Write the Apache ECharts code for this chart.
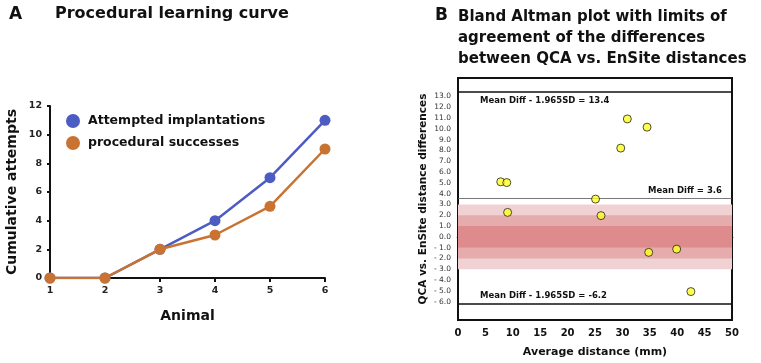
<!DOCTYPE html>
<html><head><meta charset="utf-8">
<script src="https://cdn.jsdelivr.net/npm/echarts@6/dist/echarts.min.js"></script>
<style>html,body{margin:0;padding:0;background:#fff}#c{width:761px;height:363px}</style>
</head><body><div id="c"></div>
<script>
// Panel A data
const animals = ['1','2','3','4','5','6'];
const attempted = [0,0,2,4,7,11];
const successes = [0,0,2,3,5,9];
// Panel B data
const avgDistance = [7.8, 8.9, 9.05, 25.1, 26.1, 29.7, 30.9, 34.5, 34.8, 39.9, 42.5];
const differences = [5.09, 5.02, 2.26, 3.49, 1.96, 8.21, 10.91, 10.15, -1.44, -1.14, -5.07];
const meanDiff = 3.6;
const upperLimit = 13.4;
const lowerLimit = -6.2;
const bands = [[-3, 3], [-2, 2], [-1, 1]];
const bandColors = ['#f1d2d4', '#e6abac', '#dd8b8d'];
const yTicksB = [-6,-5,-4,-3,-2,-1,0,1,2,3,4,5,6,7,8,9,10,11,12,13];

const F = '"DejaVu Sans", sans-serif';
const chart = echarts.init(document.getElementById('c'), null, {renderer:'canvas'});
const pts = avgDistance.map((x,i)=>[x, differences[i]]);

chart.setOption({
  animation:false,
  textStyle:{fontFamily:F},
  title:[
    {text:'A', left:4, top:1, textStyle:{fontFamily:F,fontSize:17,fontWeight:'bold',color:'#111'}},
    {text:'Procedural learning curve', left:50, top:1, textStyle:{fontFamily:F,fontSize:16,fontWeight:'bold',color:'#111'}},
    {text:'B', left:430, top:2, textStyle:{fontFamily:F,fontSize:17,fontWeight:'bold',color:'#111'}},
    {text:'Bland Altman plot with limits of\nagreement of the differences\nbetween QCA vs. EnSite distances', left:453, top:2,
      textStyle:{fontFamily:F,fontSize:15,fontWeight:'bold',color:'#111',lineHeight:21}}
  ],
  legend:{
    data:['Attempted implantations','procedural successes'],
    orient:'vertical', left:66, top:114, padding:0, itemGap:8, itemWidth:14, itemHeight:14, icon:'circle',
    textStyle:{fontFamily:F,fontSize:12.5,fontWeight:'bold',color:'#111',padding:[0,0,0,3]}
  },
  grid:[
    {left:50, right:436, top:106, bottom:85},
    {left:458, right:29, top:78, bottom:41.5, show:true, borderColor:'#111', borderWidth:2, backgroundColor:'transparent'}
  ],
  xAxis:[
    {gridIndex:0, type:'category', data:animals, boundaryGap:false,
      name:'Animal', nameLocation:'middle', nameGap:31,
      nameTextStyle:{fontFamily:F,fontSize:14,fontWeight:'bold',color:'#111'},
      axisLine:{lineStyle:{color:'#111',width:2}},
      axisTick:{show:true,alignWithLabel:true,length:4,lineStyle:{width:2,color:'#111'}},
      axisLabel:{fontFamily:F,fontSize:9.5,fontWeight:'bold',color:'#222',margin:8},
      splitLine:{show:false}},
    {gridIndex:1, type:'value', min:0, max:50, interval:5,
      name:'Average distance (mm)', nameLocation:'middle', nameGap:27,
      nameTextStyle:{fontFamily:F,fontSize:11,fontWeight:'bold',color:'#111'},
      axisLine:{lineStyle:{color:'#111',width:2.5}},
      axisTick:{show:true,length:4,lineStyle:{width:2,color:'#111'}},
      axisLabel:{fontFamily:F,fontSize:10,fontWeight:'bold',color:'#111',margin:8},
      splitLine:{show:false}}
  ],
  yAxis:[
    {gridIndex:0, type:'value', min:0, max:12, interval:2,
      name:'Cumulative attempts', nameLocation:'middle', nameGap:31,
      nameTextStyle:{fontFamily:F,fontSize:14,fontWeight:'bold',color:'#111'},
      axisLine:{show:true,lineStyle:{color:'#111',width:2}},
      axisTick:{show:true,length:3,lineStyle:{width:2,color:'#111'}},
      axisLabel:{fontFamily:F,fontSize:9.5,fontWeight:'bold',color:'#222',margin:8},
      splitLine:{show:false}},
    {gridIndex:1, type:'value', min:-7.7, max:14.7,
      name:'QCA vs. EnSite distance differences', nameLocation:'middle', nameGap:29,
      nameTextStyle:{fontFamily:F,fontSize:10.5,fontWeight:'bold',color:'#111'},
      axisLine:{show:true,lineStyle:{color:'#111',width:2}},
      axisTick:{show:false},
      axisLabel:{fontFamily:F,fontSize:7.5,color:'#333',margin:7,hideOverlap:false,
        customValues:yTicksB,
        formatter:v=> v<0 ? '- '+Math.abs(v).toFixed(1) : v.toFixed(1)},
      splitLine:{show:false}}
  ],
  series:[
    {name:'Attempted implantations', type:'line', xAxisIndex:0, yAxisIndex:0, data:attempted,
      symbol:'circle', symbolSize:11, lineStyle:{width:2.5,color:'#4d5cc3'}, itemStyle:{color:'#4d5cc3'}, z:2},
    {name:'procedural successes', type:'line', xAxisIndex:0, yAxisIndex:0, data:successes,
      symbol:'circle', symbolSize:11, lineStyle:{width:2.5,color:'#c97333'}, itemStyle:{color:'#c97333'}, z:3},
    {name:'BA', type:'scatter', xAxisIndex:1, yAxisIndex:1, data:pts, symbolSize:8,
      itemStyle:{color:'#ffff22',borderColor:'#222',borderWidth:1}, z:5,
      markArea:{silent:true, data: bands.map((b,i)=>[{yAxis:b[0],itemStyle:{color:bandColors[i],opacity:1}},{yAxis:b[1]}])},
      markLine:{silent:true, symbol:'none',
        data:[
          {yAxis:upperLimit, lineStyle:{color:'#111',width:1.5,type:'solid'},
            label:{show:true,position:'insideStartBottom',distance:[22,4],formatter:'Mean Diff - 1.965SD = '+upperLimit.toFixed(1),
              fontFamily:F,fontSize:8.5,fontWeight:'bold',color:'#111'}},
          {yAxis:meanDiff, lineStyle:{color:'#555',width:0.8,type:'solid'},
            label:{show:true,position:'insideEndTop',distance:[10,3],formatter:'Mean Diff = '+meanDiff.toFixed(1),
              fontFamily:F,fontSize:8.5,fontWeight:'bold',color:'#111'}},
          {yAxis:lowerLimit, lineStyle:{color:'#111',width:1.5,type:'solid'},
            label:{show:true,position:'insideStartTop',distance:[22,3],formatter:'Mean Diff - 1.965SD = '+lowerLimit.toFixed(1),
              fontFamily:F,fontSize:8.5,fontWeight:'bold',color:'#111'}}
        ]}}
  ]
});
</script></body></html>
